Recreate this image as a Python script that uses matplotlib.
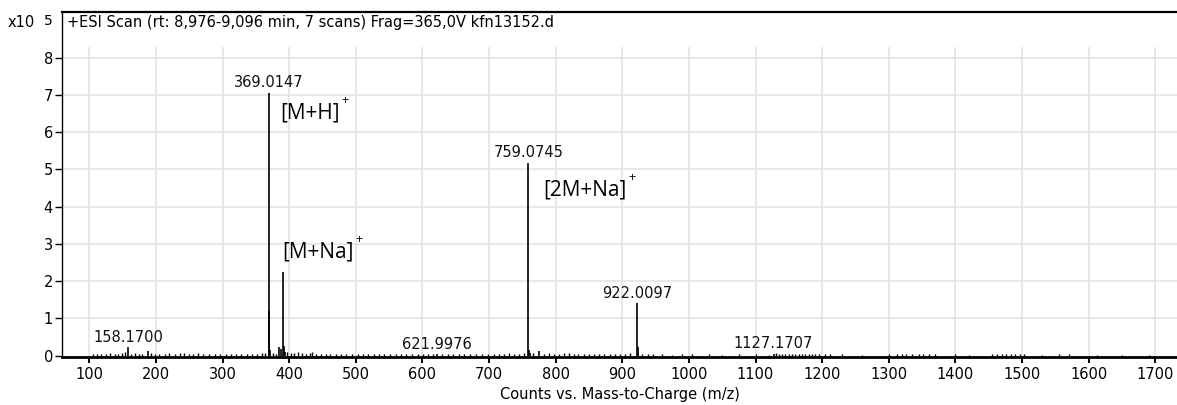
import matplotlib
matplotlib.use("Agg")
import matplotlib.pyplot as plt

W, H = 1177, 405

# labelled peaks: m/z and counts (x10^5)
peak_mz = [158.1700, 369.0147, 621.9976, 759.0745, 922.0097, 1127.1707]
peak_int = [0.22, 7.05, 0.03, 5.17, 1.40, 0.05]
peak_labels = ["158.1700", "369.0147", "621.9976", "759.0745", "922.0097", "1127.1707"]

# isotopes and adducts without a number on top
iso_mz = [187.6, 370.02, 371.0, 385.0, 387.0, 391.0, 392.0, 393.0,
          760.08, 761.0, 775.0, 923.0, 924.0]
iso_int = [0.12, 1.20, 0.15, 0.22, 0.18, 2.25, 0.25, 0.10,
           0.15, 0.08, 0.13, 0.22, 0.06]

# small background signals
noise_mz = [105, 112, 118, 125, 131, 138, 143, 149, 153, 163, 168, 174, 179, 192,
            199, 205, 213, 220, 228, 236, 242, 249, 256, 263, 271, 279, 288, 296,
            305, 312, 320, 328, 336, 344, 352, 359, 364, 375, 380, 397, 402, 408,
            413, 419, 425, 431, 435, 441, 448, 455, 462, 470, 478, 486, 494, 503,
            511, 519, 527, 535, 543, 551, 560, 568, 576, 584, 593, 601, 609, 616,
            630, 638, 646, 655, 663, 672, 680, 690, 698, 707, 715, 723, 730, 737,
            745, 752, 766, 782, 790, 797, 805, 812, 820, 827, 834, 842, 850, 857,
            865, 873, 881, 889, 896, 904, 912, 930, 938, 946, 960, 975, 990, 1005,
            1030, 1050, 1075, 1100, 1120, 1131, 1135, 1140, 1145, 1150, 1155, 1160,
            1165, 1170, 1175, 1180, 1185, 1190, 1195, 1205, 1212, 1230, 1260, 1300,
            1312, 1320, 1326, 1335, 1345, 1352, 1360, 1370, 1400, 1420, 1455, 1462,
            1470, 1476, 1484, 1490, 1497, 1503, 1530, 1555, 1570, 1612, 1650, 1690]
noise_int = [0.04, 0.03, 0.03, 0.05, 0.06, 0.04, 0.05, 0.07, 0.09, 0.05, 0.06, 0.04, 0.05, 0.06,
             0.04, 0.05, 0.04, 0.06, 0.05, 0.07, 0.08, 0.04, 0.05, 0.06, 0.04, 0.03, 0.05, 0.04,
             0.04, 0.03, 0.05, 0.04, 0.03, 0.04, 0.05, 0.06, 0.08, 0.06, 0.04, 0.10, 0.08, 0.07,
             0.09, 0.06, 0.05, 0.06, 0.09, 0.05, 0.04, 0.05, 0.04, 0.05, 0.04, 0.03, 0.04, 0.03,
             0.04, 0.03, 0.04, 0.05, 0.03, 0.04, 0.03, 0.04, 0.03, 0.04, 0.03, 0.04, 0.03, 0.04,
             0.04, 0.03, 0.04, 0.03, 0.04, 0.03, 0.03, 0.04, 0.05, 0.04, 0.03, 0.05, 0.06, 0.04,
             0.05, 0.06, 0.06, 0.05, 0.06, 0.05, 0.04, 0.06, 0.07, 0.05, 0.04, 0.05, 0.04, 0.05,
             0.04, 0.03, 0.04, 0.05, 0.04, 0.05, 0.06, 0.05, 0.03, 0.03, 0.03, 0.02, 0.03, 0.03,
             0.04, 0.02, 0.03, 0.03, 0.02, 0.06, 0.05, 0.04, 0.05, 0.05, 0.05, 0.05,
             0.05, 0.05, 0.05, 0.05, 0.04, 0.04, 0.03, 0.03, 0.04, 0.03, 0.02, 0.03,
             0.03, 0.04, 0.05, 0.04, 0.03, 0.05, 0.04, 0.03, 0.03, 0.02, 0.04, 0.03,
             0.05, 0.04, 0.05, 0.04, 0.05, 0.03, 0.02, 0.03, 0.03, 0.02, 0.02, 0.02]

# ion assignments: text, left x, baseline y
ion_text = ["[M+H]", "[M+Na]", "[2M+Na]"]
ion_x = [386, 389, 781]
ion_y = [6.36, 2.64, 4.30]

x_ticks = list(range(100, 1800, 100))
y_ticks = list(range(0, 9))

plt.rcParams["font.family"] = "DejaVu Sans"

fig = plt.figure(figsize=(W / 100, H / 100), dpi=100)
ax = fig.add_axes([62 / W, 48 / H, 1 - 62 / W, 345 / H])
ax.set_xlim(59, 1732.7)
ax.set_ylim(-0.04, 9.222)

# grid only covers the data area, header strip stays clear
ax.hlines(y_ticks[1:], 59, 1732.7, color="#e2e2e2", lw=1.1, zorder=0)
ax.vlines(x_ticks, -0.04, 8.27, color="#e2e2e2", lw=1.1, zorder=0)

ax.vlines(noise_mz, 0, noise_int, color="black", lw=1.0, zorder=2)
ax.vlines(iso_mz, 0, iso_int, color="black", lw=1.2, zorder=2)
ax.vlines(peak_mz, 0, peak_int, color="black", lw=1.2, zorder=2)

for mz, h, lab in zip(peak_mz, peak_int, peak_labels):
    ax.annotate(lab, (mz, h), xytext=(0, 4), textcoords="offset points",
                ha="center", va="baseline", fontsize=10.5, color="#111111")

for t, x, y in zip(ion_text, ion_x, ion_y):
    txt = ax.text(x, y, t, ha="left", va="baseline", fontsize=15,
                  family="Open Sans", color="black")
    # small "+" charge sign raised off the closing bracket
    ax.annotate("+", xy=(1, 1), xycoords=txt, xytext=(6, 2),
                textcoords="offset pixels", ha="center", va="center",
                fontsize=9, family="Open Sans", color="black")

ax.set_xticks(x_ticks)
ax.set_yticks(y_ticks)
ax.tick_params(axis="x", length=4, width=1.4, pad=3, labelsize=10.5, colors="black")
ax.tick_params(axis="y", length=5, width=1.0, pad=1.5, labelsize=10.5, colors="black")

ax.spines["right"].set_visible(False)
ax.spines["top"].set_linewidth(1.6)
ax.spines["left"].set_linewidth(1.0)
ax.spines["bottom"].set_linewidth(2.0)

fig.text(67 / W, 1 - 27 / H, "+ESI Scan (rt: 8,976-9,096 min, 7 scans) Frag=365,0V kfn13152.d",
         ha="left", va="baseline", fontsize=10.5)
fig.text(8 / W, 1 - 27 / H, "x10", ha="left", va="baseline", fontsize=10.5)
fig.text(44 / W, 1 - 25 / H, "5", ha="left", va="baseline", fontsize=10)
fig.text(620 / W, 1 - 399 / H, "Counts vs. Mass-to-Charge (m/z)",
         ha="center", va="baseline", fontsize=10.5)

fig.savefig("out.png", dpi=100)
